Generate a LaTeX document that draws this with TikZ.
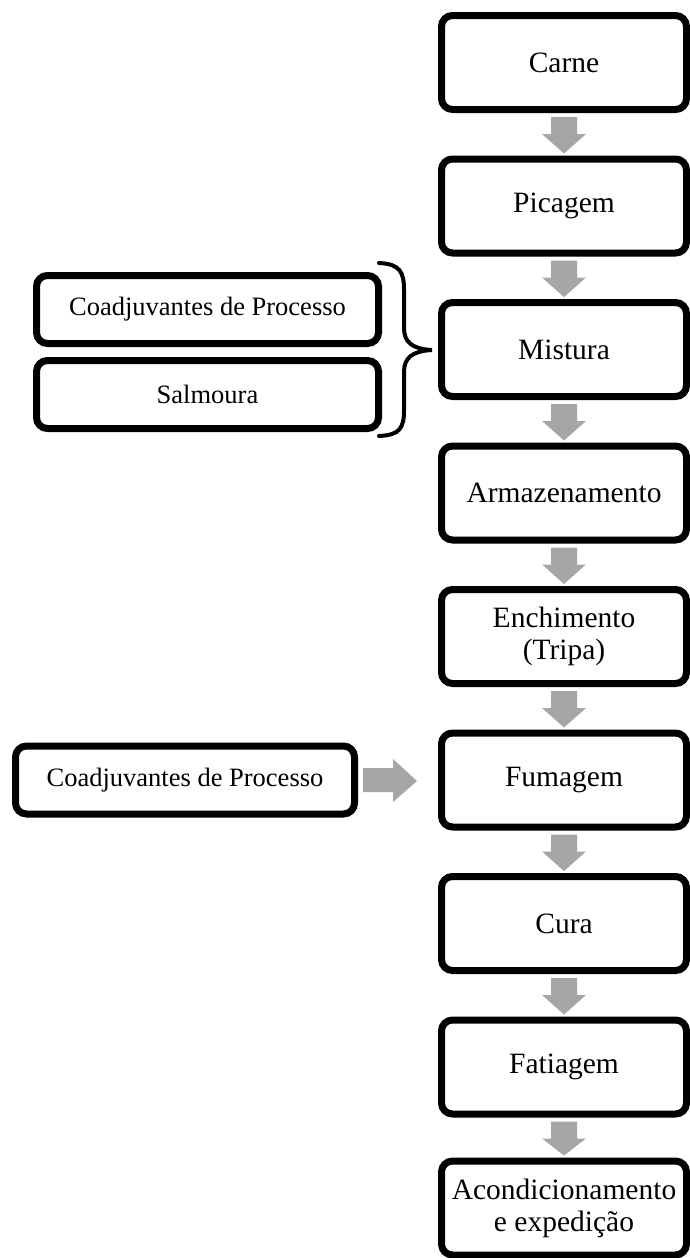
\documentclass[tikz,border=0pt]{standalone}
\usepackage{fontspec}
\setmainfont{Liberation Serif}
\usetikzlibrary{calc,shadows}
\definecolor{arrowgray}{RGB}{166,166,166}
\tikzset{
  mainbox/.style={draw=black, line width=7pt, rounded corners=11pt, fill=white,
    minimum width=245pt, minimum height=94pt, align=center,
    font=\fontsize{29.5}{32}\selectfont, inner sep=0pt,
    drop shadow={shadow xshift=2pt, shadow yshift=-3pt, opacity=0.25, fill=black}},
  sidebox/.style={draw=black, line width=7pt, rounded corners=11pt, fill=white,
    minimum height=68pt, align=center,
    font=\fontsize{26.5}{30}\selectfont, inner sep=0pt},
  grayarrow/.style={fill=arrowgray, draw=none},
  bracestyle/.style={draw=black, line width=4pt, line cap=round}
}
\newcommand{\downarr}[2]{%
  \fill[grayarrow] ($(#1.south)+(-13,4)$) -- ($(#1.south)+(13,4)$) --
    ($(#1.south)+(13,21)$) -- ($(#1.south)+(22,21)$) --
    ($(#2.north)+(0,-2)$) -- ($(#1.south)+(-22,21)$) --
    ($(#1.south)+(-13,21)$) -- cycle;}
\begin{document}
\begin{tikzpicture}[x=1pt,y=-1pt]
\useasboundingbox (0,0) rectangle (690,1258);
\node[mainbox] (n1) at (564,62.5) {Carne};
\node[mainbox] (n2) at (564,206) {Picagem};
\node[mainbox] (n3) at (564,349.5) {Mistura};
\node[mainbox] (n4) at (564,493) {Armazenamento};
\node[mainbox] (n5) at (564,636.5) {Enchimento\\(Tripa)};
\node[mainbox] (n6) at (564,780) {Fumagem};
\node[mainbox] (n7) at (564,923.5) {Cura};
\node[mainbox] (n8) at (564,1067) {Fatiagem};
\node[mainbox] (n9) at (564,1208) {Acondicionamento\\e expedição};
\downarr{n1}{n2}
\downarr{n2}{n3}
\downarr{n3}{n4}
\downarr{n4}{n5}
\downarr{n5}{n6}
\downarr{n6}{n7}
\downarr{n7}{n8}
\downarr{n8}{n9}
\node[sidebox, minimum width=342pt] (c1) at (207.5,309.5) {Coadjuvantes de Processo};
\node[sidebox, minimum width=342pt] (s1) at (207.5,394.5) {Salmoura};
\node[sidebox, minimum width=339pt] (c2) at (185,780) {Coadjuvantes de Processo};
\coordinate (btop) at (379,263);
\coordinate (btip) at (432,350);
\coordinate (bbot) at (379,436);
\draw[bracestyle] (btop) .. controls (400,264) and (404,272) .. (404,290)
  -- (404,328) .. controls (404,342) and (412,349) .. (btip)
  .. controls (412,351) and (404,358) .. (404,372)
  -- (404,410) .. controls (404,428) and (400,435) .. (bbot);
\fill[grayarrow] ($(c2.east)+(5,-12)$) -- ($(c2.east)+(35,-12)$) --
  ($(c2.east)+(35,-21)$) -- ($(n6.west)+(-21,1)$) --
  ($(c2.east)+(35,22)$) -- ($(c2.east)+(35,12)$) --
  ($(c2.east)+(5,12)$) -- cycle;
\end{tikzpicture}
\end{document}
